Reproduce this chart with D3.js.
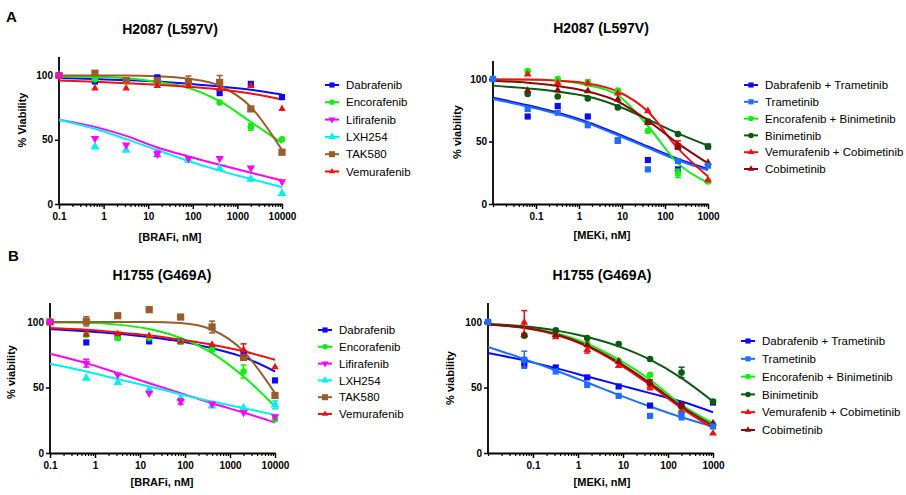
<!DOCTYPE html>
<html><head><meta charset="utf-8">
<script src="https://cdn.jsdelivr.net/npm/d3@7"></script>
<style>body{margin:0;background:#fff}svg{display:block}</style>
</head><body>
<svg id="chart" width="906" height="495"></svg>
<script>
// ---------- data ----------
const brafDoses = [0.1, 0.64, 3.2, 16, 80, 400, 2000, 10000];
const mekDoses = [0.01, 0.064, 0.32, 1.6, 8, 40, 200, 1000];
const brafTickValues = [0.1, 1, 10, 100, 1000, 10000];
const brafTickLabels = ["0.1", "1", "10", "100", "1000", "10000"];
const mekTickValues = [0.1, 1, 10, 100, 1000];
const mekTickLabels = ["0.1", "1", "10", "100", "1000"];
const yTickValues = [0, 50, 100];

const brafDrugs = ["Dabrafenib", "Encorafenib", "Lifirafenib", "LXH254", "TAK580", "Vemurafenib"];
const mekDrugs = ["Dabrafenib + Trametinib", "Trametinib", "Encorafenib + Binimetinib", "Binimetinib", "Vemurafenib + Cobimetinib", "Cobimetinib"];

// H2087 (L597V), BRAF inhibitors: mean % viability at each dose
const h2087BrafMean = [
  [100, 95.3, 96, 98.5, 95, 86.3, 93.5, 83.2],
  [100, 97, 96.5, 93.5, 92, 79, 60, 50.4],
  [100, 51, 46, 39, 35.4, 35.5, 28, 17.3],
  [100, 44.4, 41.9, 38.5, 34, 27.6, 19.4, 8.3],
  [100, 101.8, 96, 96, 95.3, 94.6, 74, 40.3],
  [100, 90, 90, 92, 92, 89.7, 92, 74]
];
const h2087BrafSem = [
  [0, 1, 1, 1.5, 1, 1, 1, 1],
  [0, 1, 1, 1, 1, 1, 2.5, 1],
  [0, 1, 1, 2, 1, 1, 1, 1],
  [0, 1, 1, 1, 1, 1, 1, 1],
  [0, 1.5, 1.5, 2, 4.3, 5.4, 1.5, 1.5],
  [0, 1, 1, 1, 1, 1, 1, 1]
];
const h2087BrafFit = [
  [98, 97.2, 96.4, 95.3, 93.5, 91.5, 88.9, 85.2],
  [99.3, 99, 97.8, 95, 90.4, 80, 63.8, 47.5],
  [65.6, 60, 53, 44, 37, 30.5, 24.3, 18.3],
  [65.6, 58.5, 50.5, 42, 33.5, 26, 19.5, 13],
  [100, 100, 100, 99.5, 97.5, 92, 75.5, 42],
  [96.1, 95.1, 94, 92.8, 91.2, 89.1, 86, 81.4]
];

// H2087 (L597V), MEK inhibitors / combinations
const h2087MekMean = [
  [100, 70, 78.4, 70, 50.7, 35.2, 27.7, 46],
  [100, 76, 73, 63, 51, 27.7, 34.4, 30.7],
  [100, 106.4, 100, 97, 90.7, 58.4, 24.5, 18],
  [100, 88, 86, 84.5, 77.3, 66, 56, 46],
  [100, 103.7, 97, 96.5, 88.5, 74.4, 47.2, 19.2],
  [100, 90.7, 91, 90.4, 83.7, 65, 46, 33]
];
const h2087MekSem = [
  [0, 1, 1, 1, 1, 1, 1, 1],
  [0, 1, 1, 1, 1, 1, 1, 1],
  [0, 1, 1, 2.3, 1, 1, 3.3, 1],
  [0, 1, 1, 1, 1, 1, 1, 1],
  [0, 1, 1, 1, 1, 1, 3.3, 1],
  [0, 1, 1, 1, 1, 1, 2, 1]
];
const h2087MekFit = [
  [85, 79, 73, 65.5, 56, 46, 36, 28],
  [84, 78, 72, 64.5, 55, 45, 35, 27],
  [99.7, 99.5, 98.5, 95, 87, 62.4, 32.5, 17],
  [94.7, 92.5, 90, 86, 78.4, 67.7, 56.5, 46.7],
  [99.7, 99.6, 98.7, 96.5, 90, 74, 44.5, 22],
  [98.4, 97, 94.4, 90, 82, 66.7, 48.5, 32.5]
];

// H1755 (G469A), BRAF inhibitors
const h1755BrafMean = [
  [100, 84.4, 88.3, 85.2, 85.2, 80, 76.3, 55.4],
  [100, 90.3, 87.8, 88, 85, 78.8, 62.2, 25.8],
  [100, 68.6, 59.7, 45.7, 39.3, 37.5, 30.9, 27.8],
  [100, 57.1, 53.8, 48.2, 41.8, 36, 34.2, 36.7],
  [100, 100.5, 104.8, 109.4, 103.8, 96.2, 73, 43.9],
  [100, 90.3, 90.8, 89.5, 85, 82.7, 78.8, 65.6]
];
const h1755BrafSem = [
  [0, 1, 1, 1, 1, 1, 1, 1],
  [0, 1, 1, 1, 1, 1, 5, 1],
  [0, 3, 1, 1, 2, 1, 1, 1],
  [0, 1, 1, 1, 1, 1, 1, 3],
  [0, 3.5, 1, 1, 1, 4.5, 1, 1],
  [0, 1, 1, 1, 1, 1, 4.5, 1]
];
const h1755BrafFit = [
  [94.6, 92.9, 91, 88.5, 85.2, 80, 73.2, 62.2],
  [99.7, 99.5, 98, 94.6, 87.8, 76.3, 58.4, 35.5],
  [75.8, 68.6, 61, 53.3, 45.7, 38, 30.9, 23.2],
  [68.1, 62.2, 56.4, 50.8, 44.9, 39.3, 34.2, 29.1],
  [100, 100, 100, 100, 99.2, 94.1, 77.6, 45.7],
  [95.4, 94.1, 92.1, 89.8, 86.5, 82.7, 77.6, 71.2]
];

// H1755 (G469A), MEK inhibitors / combinations
const h1755MekMean = [
  [100, 68.6, 65.3, 57.7, 50.8, 36.2, 36.7, 38.5],
  [100, 71.2, 62.2, 52, 43.6, 28.3, 28.3, 20.2],
  [100, 90.3, 89.5, 83.4, 70.4, 59.7, 31.6, 21.9],
  [100, 89.5, 93.6, 87.8, 83.2, 71.7, 61.5, 39.3],
  [100, 99.7, 88.5, 78.8, 66.6, 50.8, 32.1, 15],
  [100, 90.3, 90.3, 82.7, 69.9, 53.8, 36.2, 22.7]
];
const h1755MekSem = [
  [0, 3, 1, 1, 1, 1, 1, 1],
  [0, 6.5, 1, 1, 1, 1, 3, 1],
  [0, 1, 1, 1, 1, 1, 1, 1],
  [0, 1, 1, 1, 1, 1, 4, 1],
  [0, 9, 1, 2.5, 1, 2.5, 1, 1],
  [0, 1, 1, 1, 1, 2, 2, 1]
];
const h1755MekFit = [
  [76.3, 70.7, 64.8, 58.4, 52, 45.7, 39.3, 31.1],
  [80.9, 71.7, 63, 53.8, 44.4, 35.5, 27.3, 20.2],
  [98, 95.9, 91.6, 83.4, 71.2, 55.9, 36.7, 22.7],
  [98.5, 96.7, 93.6, 88.5, 81.4, 71.2, 57.1, 39.3],
  [98, 95.4, 90.3, 81.4, 68.1, 52, 34.2, 18.9],
  [98, 95.7, 90.8, 81.9, 69.1, 53.3, 35.5, 20.9]
];

// ---------- styles ----------
const brafStyles = [
  {color: "#0a0aff", shape: "square", size: 38},
  {color: "#11ee11", shape: "circle", size: 34},
  {color: "#ff00ff", shape: "down", size: 30},
  {color: "#00f0f0", shape: "up", size: 34},
  {color: "#9a5c2c", shape: "square", size: 52},
  {color: "#f01010", shape: "up", size: 24}
];
const mekStyles = [
  {color: "#0a0aff", shape: "square", size: 38},
  {color: "#1f6fff", shape: "square", size: 38},
  {color: "#11ee11", shape: "circle", size: 34},
  {color: "#0b5a12", shape: "circle", size: 34},
  {color: "#f01010", shape: "up", size: 26},
  {color: "#8b0a0a", shape: "up", size: 26}
];

const panels = [
  {title: "H2087 (L597V)", doses: brafDoses, names: brafDrugs, styles: brafStyles,
   mean: h2087BrafMean, sem: h2087BrafSem, fit: h2087BrafFit,
   tickValues: brafTickValues, tickLabels: brafTickLabels, xLabel: "[BRAFi, nM]", yLabel: "% Viability",
   xd: [0.1, 10000], x0: 59, x1: 282, y0: 204, y100: 75.5, yTop: 57,
   titleX: 170, titleY: 34, xlabX: 170, xlabY: 241, ylabX: 22, ylabY: 120,
   legX: 325, legY: 85, legDy: 17.3, order: [0, 1, 3, 4, 5, 2]},
  {title: "H2087 (L597V)", doses: mekDoses, names: mekDrugs, styles: mekStyles,
   mean: h2087MekMean, sem: h2087MekSem, fit: h2087MekFit,
   tickValues: mekTickValues, tickLabels: mekTickLabels, xLabel: "[MEKi, nM]", yLabel: "% viability",
   xd: [0.01, 1000], x0: 493, x1: 708, y0: 204, y100: 79, yTop: 61,
   titleX: 601, titleY: 33, xlabX: 602, xlabY: 239, ylabX: 457, ylabY: 132,
   legX: 744, legY: 85, legDy: 16.8, order: [0, 2, 3, 4, 5, 1]},
  {title: "H1755 (G469A)", doses: brafDoses, names: brafDrugs, styles: brafStyles,
   mean: h1755BrafMean, sem: h1755BrafSem, fit: h1755BrafFit,
   tickValues: brafTickValues, tickLabels: brafTickLabels, xLabel: "[BRAFi, nM]", yLabel: "% viability",
   xd: [0.1, 10000], x0: 50, x1: 275, y0: 453, y100: 322, yTop: 303,
   titleX: 162, titleY: 280, xlabX: 162, xlabY: 486, ylabX: 11, ylabY: 372,
   legX: 318, legY: 330, legDy: 16.8, order: [0, 1, 3, 4, 5, 2]},
  {title: "H1755 (G469A)", doses: mekDoses, names: mekDrugs, styles: mekStyles,
   mean: h1755MekMean, sem: h1755MekSem, fit: h1755MekFit,
   tickValues: mekTickValues, tickLabels: mekTickLabels, xLabel: "[MEKi, nM]", yLabel: "% viability",
   xd: [0.01, 1000], x0: 488, x1: 713, y0: 453, y100: 322, yTop: 303,
   titleX: 602, titleY: 280, xlabX: 602, xlabY: 486, ylabX: 450, ylabY: 378,
   legX: 741, legY: 341, legDy: 17.8, order: [0, 2, 3, 4, 5, 1]}
];

// ---------- drawing ----------
const svg = d3.select("#chart");
const FONT = "'Liberation Sans', Arial, sans-serif";

function symbolPath(shape, size) {
  const type = shape === "square" ? d3.symbolSquare : shape === "circle" ? d3.symbolCircle : d3.symbolTriangle;
  return d3.symbol().type(type).size(size)();
}
function symbolTransform(shape, x, y) {
  return shape === "down" ? `translate(${x},${y}) rotate(180)` : `translate(${x},${y})`;
}

svg.append("text").attr("x", 6).attr("y", 22).text("A")
  .attr("font-family", FONT).attr("font-weight", "bold").attr("font-size", 15);
svg.append("text").attr("x", 8).attr("y", 261).text("B")
  .attr("font-family", FONT).attr("font-weight", "bold").attr("font-size", 15);

panels.forEach(p => {
  const g = svg.append("g");
  const x = d3.scaleLog().domain(p.xd).range([p.x0, p.x1]);
  const y = d3.scaleLinear().domain([0, 100]).range([p.y0, p.y100]);

  // title
  g.append("text").attr("x", p.titleX).attr("y", p.titleY).attr("text-anchor", "middle")
    .attr("font-family", FONT).attr("font-weight", "bold").attr("font-size", 14).text(p.title);

  // x axis: minor ticks
  const minor = x.ticks().filter(v => !p.tickValues.some(t => Math.abs(t - v) / t < 1e-6));
  const xMinor = d3.axisBottom(x).tickValues(minor).tickSize(3).tickFormat("");
  const gxm = g.append("g").attr("transform", `translate(0,${p.y0})`).call(xMinor);
  gxm.select(".domain").remove();
  gxm.selectAll("line").attr("stroke", "#000").attr("stroke-width", 1.2);

  const xMajor = d3.axisBottom(x).tickValues(p.tickValues).tickSize(5).tickSizeOuter(0)
    .tickFormat((d, i) => p.tickLabels[i]);
  const gx = g.append("g").attr("transform", `translate(0,${p.y0})`).call(xMajor);
  gx.select(".domain").attr("stroke", "#000").attr("stroke-width", 1.8);
  gx.selectAll(".tick line").attr("stroke", "#000").attr("stroke-width", 1.5);
  gx.selectAll(".tick text").attr("font-family", FONT).attr("font-weight", "bold")
    .attr("font-size", 10).attr("fill", "#000").attr("dy", "0.71em").attr("y", 9);

  // y axis
  const yAxis = d3.axisLeft(y).tickValues(yTickValues).tickSize(4).tickSizeOuter(0);
  const gy = g.append("g").attr("transform", `translate(${p.x0},0)`).call(yAxis);
  gy.select(".domain").remove();
  gy.append("line").attr("x1", 0).attr("x2", 0).attr("y1", p.y0).attr("y2", p.yTop)
    .attr("stroke", "#000").attr("stroke-width", 1.8);
  gy.selectAll(".tick line").attr("stroke", "#000").attr("stroke-width", 1.5);
  gy.selectAll(".tick text").attr("font-family", FONT).attr("font-weight", "bold")
    .attr("font-size", 10).attr("fill", "#000").attr("x", -6);

  // axis labels
  g.append("text").attr("x", p.xlabX).attr("y", p.xlabY).attr("text-anchor", "middle")
    .attr("font-family", FONT).attr("font-weight", "bold").attr("font-size", 11).text(p.xLabel);
  g.append("text").attr("transform", `translate(${p.ylabX},${p.ylabY}) rotate(-90)`)
    .attr("text-anchor", "middle").attr("dy", "0.35em")
    .attr("font-family", FONT).attr("font-weight", "bold").attr("font-size", 11).text(p.yLabel);

  // fitted curves
  const line = d3.line().x(d => x(d[0])).y(d => y(d[1])).curve(d3.curveMonotoneX);
  p.fit.forEach((vals, i) => {
    g.append("path").datum(p.doses.map((d, k) => [d, vals[k]]))
      .attr("d", line).attr("fill", "none")
      .attr("stroke", p.styles[i].color).attr("stroke-width", 2);
  });

  // points with error bars
  p.order.forEach(i => {
    const st = p.styles[i];
    p.doses.forEach((d, k) => {
      const m = p.mean[i][k], e = p.sem[i][k];
      const cx = x(d), cy = y(m);
      if (e > 1.2) {
        g.append("line").attr("x1", cx).attr("x2", cx).attr("y1", y(m + e)).attr("y2", y(m - e))
          .attr("stroke", st.color).attr("stroke-width", 1.5);
        [m + e, m - e].forEach(v => g.append("line").attr("x1", cx - 3).attr("x2", cx + 3)
          .attr("y1", y(v)).attr("y2", y(v)).attr("stroke", st.color).attr("stroke-width", 1.5));
      }
      g.append("path").attr("d", symbolPath(st.shape, st.size))
        .attr("transform", symbolTransform(st.shape, cx, cy)).attr("fill", st.color);
    });
  });

  // legend
  p.names.forEach((name, i) => {
    const st = p.styles[i];
    const ly = p.legY + i * p.legDy;
    g.append("line").attr("x1", p.legX).attr("x2", p.legX + 14).attr("y1", ly).attr("y2", ly)
      .attr("stroke", st.color).attr("stroke-width", 2);
    g.append("path").attr("d", symbolPath(st.shape, st.size * 0.7))
      .attr("transform", symbolTransform(st.shape, p.legX + 7, ly)).attr("fill", st.color);
    g.append("text").attr("x", p.legX + 21).attr("y", ly).attr("dy", "0.36em")
      .attr("font-family", FONT).attr("font-size", 11.5).attr("fill", "#000").text(name);
  });
});
</script>
</body></html>
